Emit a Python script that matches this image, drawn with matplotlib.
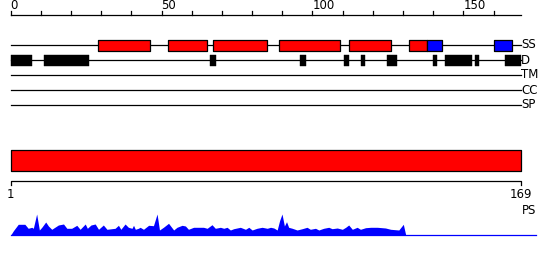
import matplotlib
matplotlib.use("Agg")
import matplotlib.pyplot as plt

# sequence / tracks
seq_len = 169
tick_step = 10
tick_labels = [0, 50, 100, 150]
track_names = ["SS", "D", "TM", "CC", "SP"]

# secondary structure segments (start, end) in residues
ss_red = [(29, 46), (52, 65), (67, 85), (89, 109), (112, 126), (132, 138)]
ss_blue = [(138, 143), (160, 166)]

# disorder segments
dis_segs = [(0, 7), (11, 26), (66, 68), (96, 98), (110.5, 112), (116, 117.3),
            (124.8, 128), (140, 141.2), (144, 153), (154, 155.2), (163.8, 169)]

# PS profile (residue, score)
ps_pos = [0, 0.9, 2.5, 4.7, 5.8, 7.0, 7.5, 8.6, 9.5, 10.3, 11.6, 12.5, 13.6,
          15.8, 17.5, 18.6, 20.2, 21.9, 23.0, 24.7, 25.4, 26.6, 28.0, 29.1,
          30.7, 31.9, 34.6, 35.7, 36.5, 37.9, 39.0, 40.2, 40.7, 41.3, 42.3,
          42.9, 44.0, 45.7, 47.3, 48.5, 49.3, 50.6, 52.3, 54.0, 55.1, 56.8,
          57.9, 58.9, 60.6, 63.9, 65.1, 66.7, 67.8, 69.5, 70.6, 71.7, 72.8,
          73.9, 76.1, 77.8, 78.9, 80.0, 81.6, 83.3, 85.0, 86.1, 87.2, 88.3,
          89.1, 89.9, 90.7, 91.4, 92.1, 93.3, 94.9, 96.6, 98.2, 99.3, 101.0,
          102.1, 103.7, 105.4, 106.5, 108.2, 109.9, 111.0, 112.0, 113.2,
          114.8, 115.9, 117.6, 119.3, 121.5, 124.2, 125.9, 128.6, 130.1, 130.9]
ps_val = [0, 4.3, 10.7, 10.7, 6.7, 7.7, 6.7, 21, 5, 7.7, 13, 9, 5.7,
          10, 11, 6.7, 6.7, 9.7, 5.7, 11, 6.7, 10, 11, 5.7,
          10, 5.7, 6.7, 9.7, 5.7, 11, 7.7, 6.7, 9.7, 5.7, 6.7,
          7.7, 5.7, 9.7, 9.3, 21, 5, 7.7, 11.7, 5, 7.7, 9.7,
          9, 5.7, 7.7, 7.7, 6.7, 10.3, 6.7, 7.7, 6.7, 7.7, 5,
          6.3, 7.7, 5.7, 7.7, 5, 6.7, 7.7, 6.7, 7.7, 7, 5,
          14.3, 21, 9, 13.3, 7.7, 6.7, 5, 6.3, 7.7, 5.7, 6.7,
          5, 6.7, 7.7, 6.3, 7, 5.7, 7.7, 10, 5.7,
          7.7, 5.7, 7.3, 7.7, 7.7, 7, 5.7, 5, 10.7, 0]
ps_line_end = 174.2

RED = "#ff0000"
BLUE = "#0000ff"
px = 3.0178  # pixels per residue
lw = 0.9

fig = plt.figure(figsize=(5.5, 2.6), dpi=100)
ax = fig.add_axes([0, 0, 1, 1])
ax.set_xlim(-10.7 / px, (550 - 10.7) / px)
ax.set_ylim(260, 0)
ax.axis("off")

# top ruler
ax.plot([0, seq_len], [15, 15], color="black", lw=lw)
for t in range(0, seq_len, tick_step):
    ax.plot([t, t], [11, 15], color="black", lw=lw)
for t in tick_labels:
    ax.text(t, 12, str(t), ha="left", va="bottom", fontsize=8.5)

# tracks
track_y = [45, 60, 75, 90, 105]
for name, y in zip(track_names, track_y):
    ax.plot([0, seq_len], [y, y], color="black", lw=lw, zorder=1)
    ax.text(seq_len + 0.1, y, name, ha="left", va="center", fontsize=8.5)

ax.broken_barh([(a, b - a) for a, b in ss_red], (40, 10.5), facecolors=RED,
               edgecolors="black", linewidth=lw, zorder=2)
ax.broken_barh([(a, b - a) for a, b in ss_blue], (40, 10.5), facecolors=BLUE,
               edgecolors="black", linewidth=lw, zorder=2)
ax.broken_barh([(a, b - a) for a, b in dis_segs], (55, 10.5), facecolors="black",
               edgecolors="black", linewidth=0.3, zorder=2)

# PS bar and scale
ax.broken_barh([(0, seq_len)], (150, 20.5), facecolors=RED, edgecolors="black",
               linewidth=lw)
ax.plot([0, 0, seq_len, seq_len], [185, 180.7, 180.7, 185], color="black", lw=lw)
ax.text(0, 188, "1", ha="center", va="top", fontsize=8.5)
ax.text(seq_len, 188, str(seq_len), ha="center", va="top", fontsize=8.5)
ax.text(seq_len + 0.4, 211, "PS", ha="left", va="center", fontsize=8.5)

# PS profile
base = 235
ax.plot([0, ps_line_end], [base, base], color=BLUE, lw=lw)
ax.fill_between(ps_pos, base, [base - v for v in ps_val], color=BLUE, lw=0)

fig.savefig("out.png", dpi=100)
